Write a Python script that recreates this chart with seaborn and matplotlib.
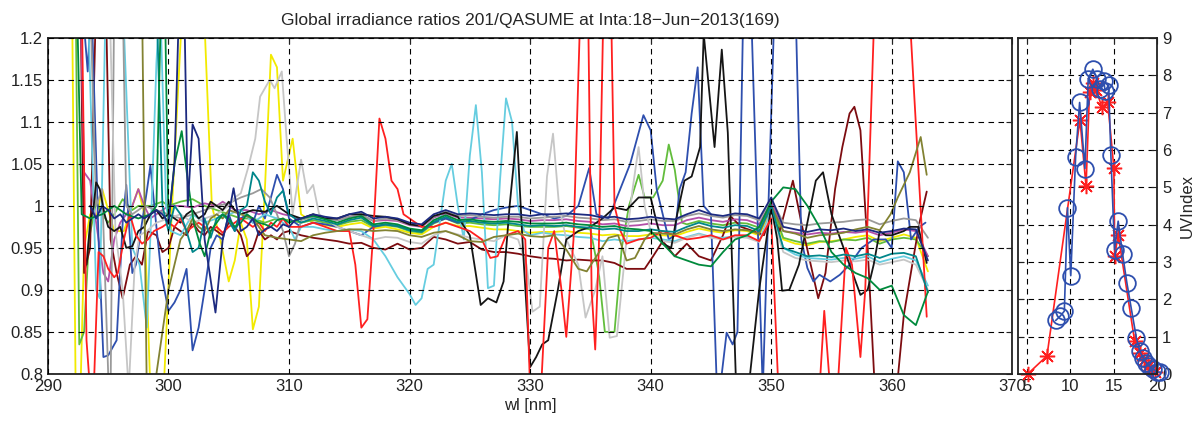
import matplotlib
matplotlib.use('Agg')
import matplotlib.pyplot as plt
import seaborn as sns
import numpy as np

# Razões de irradiância global 201/QASUME

band_wl = list(range(311, 364))  # parte "calma" do espectro, passo de 1 nm

# --- curvas com parte inicial irregular + faixa estável ---
navy_head = [(293.5, 1.0), (294.0, 0.985), (294.5, 1.0), (295.0, 0.995), (295.5, 0.985), (296.0, 0.99),
             (296.5, 0.98), (297.0, 0.985), (297.5, 0.99), (298.0, 0.985), (298.5, 0.99), (299.0, 0.995),
             (299.5, 0.99), (300.0, 0.98), (300.5, 1.05), (300.9, 1.25), (301.3, 1.25), (301.6, 1.0),
             (302.0, 1.097), (302.5, 1.08), (303.0, 0.96), (303.9, 0.873), (304.5, 0.96), (305.0, 0.99),
             (305.4, 1.021), (306.0, 0.97), (306.5, 0.975), (307.0, 0.985), (307.5, 0.965), (308.0, 0.972),
             (308.5, 0.975), (309.0, 0.97), (309.5, 0.978), (310.0, 0.975), (310.5, 0.983)]
navy_band = [0.985, 0.990, 0.987, 0.985, 0.990, 0.993, 0.985, 0.987, 0.985, 0.980,
             0.978, 0.990, 0.995, 0.990, 0.991, 0.990, 0.989, 0.990, 0.990, 0.988,
             0.990, 0.990, 0.991, 0.990, 0.989, 0.986, 0.987, 0.984, 0.985, 0.987,
             0.985, 0.984, 0.990, 0.995, 0.990, 0.988, 0.991, 0.990, 0.985, 1.010,
             0.975, 0.972, 0.969, 0.972, 0.971, 0.973, 0.970, 0.972, 0.968, 0.970,
             0.973, 0.972, 0.935]

gray_head = [(293.5, 1.25), (294.0, 1.0), (294.5, 1.02), (295.0, 0.8), (295.2, 0.78), (295.5, 1.25),
             (296.2, 1.25), (296.5, 1.0), (297.0, 0.99), (298.0, 1.0), (299.0, 0.995), (300.0, 0.99),
             (301.0, 0.985), (302.0, 0.99), (303.0, 0.995), (304.0, 1.0), (305.0, 1.003), (306.0, 1.01),
             (307.0, 1.015), (307.7, 1.02), (308.4, 1.01), (309.0, 0.99), (309.5, 0.97), (310.0, 0.94),
             (310.5, 0.955)]
gray_band = [0.983, 0.987, 0.985, 0.983, 0.987, 0.990, 0.982, 0.985, 0.983, 0.978,
             0.976, 0.987, 0.993, 0.988, 0.989, 0.987, 0.986, 0.987, 0.987, 0.985,
             0.986, 0.987, 0.988, 0.986, 0.985, 0.983, 0.984, 0.981, 0.982, 0.984,
             0.982, 0.982, 0.988, 0.991, 0.988, 0.986, 0.989, 0.988, 0.983, 1.008,
             0.980, 0.978, 0.977, 0.979, 0.980, 0.981, 0.983, 0.984, 0.978, 0.982,
             0.985, 0.983, 0.962]

magenta_head = [(292.7, 1.25), (293.0, 1.04), (293.5, 1.03), (294.0, 0.98), (294.6, 0.92), (295.0, 0.91),
                (295.5, 0.96), (296.0, 0.98), (296.5, 0.99), (297.0, 1.0), (297.5, 1.02), (298.0, 1.0),
                (298.5, 0.985), (299.0, 0.99), (300.0, 1.0), (301.0, 1.0), (302.0, 0.998), (303.0, 1.003),
                (304.0, 1.0), (304.5, 1.005), (305.5, 0.995), (306.5, 0.995), (307.5, 0.99), (308.5, 0.995),
                (309.5, 0.99), (310.2, 0.988)]
magenta_band = [0.984, 0.988, 0.986, 0.983, 0.987, 0.989, 0.982, 0.983, 0.982, 0.977,
                0.975, 0.986, 0.991, 0.986, 0.986, 0.985, 0.984, 0.985, 0.984, 0.982,
                0.983, 0.983, 0.984, 0.982, 0.981, 0.978, 0.979, 0.976, 0.977, 0.979,
                0.977, 0.977, 0.983, 0.986, 0.983, 0.981, 0.984, 0.983, 0.978, 1.005,
                0.970, 0.968, 0.966, 0.968, 0.967, 0.969, 0.968, 0.970, 0.965, 0.968,
                0.972, 0.970, 0.940]

teal_head = [(299.0, 1.25), (299.5, 1.0), (300.0, 0.97), (300.5, 1.0), (301.0, 0.99), (301.5, 0.97),
             (302.0, 0.945), (302.5, 0.95), (303.0, 0.985), (303.5, 0.962), (304.0, 0.985), (304.5, 0.99),
             (305.0, 0.982), (305.5, 0.97), (306.0, 0.995), (306.5, 1.0), (307.0, 1.04), (307.5, 1.03),
             (308.0, 1.005), (308.5, 0.99), (309.0, 1.01), (309.5, 1.018), (310.0, 0.99)]
teal_band = [0.980, 0.985, 0.982, 0.978, 0.983, 0.986, 0.976, 0.978, 0.976, 0.971,
             0.969, 0.981, 0.987, 0.981, 0.982, 0.980, 0.979, 0.980, 0.978, 0.976,
             0.977, 0.976, 0.977, 0.975, 0.974, 0.972, 0.973, 0.970, 0.970, 0.972,
             0.970, 0.969, 0.975, 0.980, 0.976, 0.974, 0.977, 0.976, 0.970, 1.000,
             0.950, 0.945, 0.940, 0.941, 0.939, 0.942, 0.940, 0.943, 0.938, 0.943,
             0.944, 0.940, 0.897]

yellow_head = [(292.0, 1.25), (292.3, 0.78), (292.7, 0.78), (293.0, 0.95), (293.5, 0.99), (294.0, 0.985),
               (294.5, 1.02), (295.5, 0.97), (296.3, 0.97), (297.0, 1.0), (297.5, 1.02), (298.0, 0.99),
               (298.5, 0.78), (299.6, 0.78), (300.3, 1.0), (301.2, 1.25), (302.9, 1.25), (303.6, 1.0),
               (304.3, 0.96), (305.0, 0.91), (305.5, 0.935), (306.0, 0.98), (306.5, 0.96), (307.0, 0.853),
               (307.5, 0.88), (308.0, 1.02), (308.5, 1.18), (309.0, 1.165), (309.5, 1.03), (310.3, 1.08)]
yellow_band = [0.990, 0.980, 0.977, 0.975, 0.978, 0.980, 0.973, 0.975, 0.972, 0.968,
               0.966, 0.975, 0.980, 0.976, 0.976, 0.974, 0.972, 0.972, 0.970, 0.968,
               0.969, 0.969, 0.970, 0.968, 0.967, 0.965, 0.966, 0.964, 0.964, 0.966,
               0.965, 0.964, 0.969, 0.973, 0.970, 0.968, 0.971, 0.970, 0.965, 0.998,
               0.960, 0.955, 0.953, 0.957, 0.958, 0.960, 0.963, 0.965, 0.958, 0.962,
               0.966, 0.962, 0.922]

dkgreen_head = [(292.4, 1.25), (292.8, 0.99), (293.5, 0.985), (294.5, 0.99), (295.5, 1.0), (296.5, 0.99),
                (297.5, 0.985), (298.5, 0.99), (299.0, 1.0), (299.4, 1.25), (299.7, 1.25), (300.0, 0.98),
                (300.5, 1.05), (301.1, 1.089), (301.6, 1.03), (302.1, 0.98), (302.6, 0.955), (303.0, 0.94),
                (303.5, 0.97), (304.0, 0.98), (304.5, 0.99), (305.0, 0.985), (305.5, 0.975), (306.0, 0.98),
                (306.5, 0.99), (307.0, 0.985), (307.5, 0.98), (308.0, 0.978), (308.5, 0.975), (309.0, 0.983),
                (309.5, 0.985), (310.0, 0.98)]
dkgreen_band = [0.985, 0.988, 0.984, 0.980, 0.985, 0.988, 0.978, 0.980, 0.978, 0.973,
                0.971, 0.983, 0.989, 0.983, 0.984, 0.982, 0.981, 0.982, 0.981, 0.979,
                0.979, 0.979, 0.980, 0.978, 0.977, 0.975, 0.976, 0.973, 0.972, 0.970,
                0.955, 0.940, 0.935, 0.930, 0.928, 0.945, 0.960, 0.965, 0.975, 1.005,
                1.022, 1.020, 1.000, 0.975, 0.945, 0.930, 0.920, 0.914, 0.900, 0.905,
                0.870, 0.858, 0.898]

# --- curvas descritas apenas por vértices ---
ltgreen = [(292.3, 1.25), (292.6, 0.835), (293.0, 0.85), (293.4, 0.96), (294.0, 1.005), (294.5, 0.99),
           (295.0, 0.98), (295.5, 0.99), (296.2, 1.008), (297.0, 0.995), (297.5, 1.0), (298.5, 1.0),
           (299.5, 1.005), (300.0, 1.0), (301.0, 1.005), (302.0, 1.008), (303.0, 1.0), (304.0, 0.995),
           (305.0, 0.99), (306.0, 0.985), (307.0, 0.985), (308.0, 0.98), (309.0, 0.985), (310.0, 0.983),
           (311, 0.980), (312, 0.983), (313, 0.980), (314, 0.977), (315, 0.981), (316, 0.983), (317, 0.975),
           (318, 0.977), (319, 0.975), (320, 0.970), (321, 0.968), (322, 0.979), (323, 0.985), (324, 0.979),
           (325, 0.980), (326, 0.978), (327, 0.977), (328, 0.978), (329, 0.976), (330, 0.975), (331, 0.975),
           (332, 0.975), (333, 0.976), (334, 0.974), (335, 0.972), (335.7, 0.92), (336.2, 0.85), (337.0, 0.85),
           (337.6, 0.95), (338.2, 1.0), (339.0, 1.037), (339.5, 1.01), (340.2, 1.01), (341.0, 1.03),
           (341.5, 1.073), (342.0, 1.043), (342.6, 0.98), (343, 0.978), (344, 0.982), (345, 0.979),
           (346, 0.977), (347, 0.98), (348, 0.979), (349, 0.974), (350, 1.002), (351, 0.962), (352, 0.958),
           (353, 0.955), (354, 0.958), (355, 0.957), (356, 0.96), (357, 0.959), (358, 0.962), (359, 0.955),
           (360, 0.96), (361, 0.962), (362, 0.96), (363, 0.94)]

maroon = [(292.7, 1.25), (293.0, 0.92), (293.5, 0.95), (294.0, 1.25), (294.8, 1.25), (295.2, 0.96),
          (295.7, 0.92), (296.2, 0.89), (296.8, 0.93), (297.3, 0.94), (297.8, 0.93), (298.3, 0.97),
          (299.0, 0.965), (299.5, 0.945), (300.0, 0.95), (300.5, 0.975), (301.0, 0.97), (301.5, 0.965),
          (302.0, 0.98), (302.5, 0.97), (303.0, 0.965), (303.5, 0.975), (304.0, 0.97), (304.5, 0.965),
          (305.0, 0.98), (305.5, 0.975), (306.0, 0.965), (306.5, 0.94), (307.0, 0.948), (307.5, 0.97),
          (308.0, 0.96), (308.5, 0.965), (309.0, 0.96), (309.5, 0.968), (310.0, 0.97), (311, 0.965),
          (312, 0.962), (313, 0.96), (314, 0.958), (315, 0.955), (316, 0.956), (317, 0.95), (318, 0.948),
          (319, 0.955), (320, 0.948), (321, 0.95), (322, 0.963), (323, 0.96), (324, 0.955), (325, 0.957),
          (326, 0.948), (327, 0.945), (328, 0.945), (329, 0.943), (330, 0.94), (331, 0.938), (332, 0.937),
          (333, 0.935), (334, 0.936), (335, 0.935), (336, 0.935), (337, 0.932), (338, 0.925), (339.5, 0.925),
          (340.2, 0.94), (341, 0.958), (342, 0.94), (343, 0.955), (344, 0.94), (345, 0.935), (346, 0.965),
          (346.6, 0.988), (347.5, 0.975), (348.5, 0.97), (349.4, 0.965), (350, 0.99), (350.7, 0.97),
          (351.8, 1.03), (352.5, 0.98), (353.9, 0.89), (354.5, 0.92), (355.3, 1.02), (355.9, 1.07),
          (356.5, 1.11), (356.9, 1.118), (357.4, 1.09), (358.0, 0.95), (358.6, 0.78), (360.4, 0.78),
          (361.0, 0.87), (361.7, 0.93), (362.3, 0.98), (362.9, 1.017)]

blue = [(292.8, 1.25), (293.3, 1.16), (293.6, 1.25), (294.2, 0.96), (294.6, 0.82), (295.0, 0.822),
        (295.7, 0.84), (296.2, 0.98), (296.5, 1.025), (297.0, 0.92), (297.3, 0.93), (297.7, 0.97),
        (298.2, 1.017), (298.5, 1.048), (299.0, 0.975), (299.4, 0.92), (300.0, 0.875), (300.5, 0.885),
        (301.0, 0.9), (301.5, 0.925), (302.0, 0.828), (302.5, 0.855), (303.0, 0.9), (303.5, 0.95),
        (304.0, 0.965), (304.5, 0.96), (305.0, 0.99), (305.5, 0.97), (306.0, 0.985), (306.5, 0.99),
        (307.0, 0.98), (307.5, 1.0), (308.0, 0.985), (308.5, 1.01), (309.0, 1.037), (309.5, 1.02),
        (310.0, 0.985), (311, 0.975), (312, 0.98), (313, 0.978), (314, 0.975), (315, 0.97), (316, 0.965),
        (317, 0.975), (318, 0.978), (319, 0.976), (320, 0.972), (321, 0.97), (322, 0.98), (323, 0.985),
        (324, 0.98), (325, 0.983), (326, 0.99), (327, 0.995), (328, 0.998), (329, 1.0), (330, 0.995),
        (331, 0.99), (332, 0.985), (333, 0.988), (334.0, 1.0), (334.9, 1.045), (335.5, 0.99), (336.5, 0.985),
        (337.2, 1.01), (338.3, 1.05), (339.4, 1.108), (340.0, 1.09), (340.5, 1.02), (341.0, 0.99),
        (341.5, 0.96), (342.0, 0.965), (342.4, 1.02), (342.9, 1.04), (343.4, 1.11), (343.9, 1.165),
        (344.4, 1.0), (345.0, 0.99), (345.5, 0.78), (345.9, 0.8), (346.3, 0.849), (346.8, 0.835),
        (347.2, 0.85), (347.7, 1.25), (348.3, 1.25), (349.3, 0.78), (350.3, 1.25), (352.0, 1.25),
        (352.5, 0.96), (353.0, 0.926), (353.5, 0.91), (354.0, 0.918), (354.9, 0.91), (355.7, 0.918),
        (356.5, 0.93), (357.5, 0.95), (358.5, 0.96), (359.5, 0.96), (360.0, 0.95), (360.5, 1.053),
        (361.0, 1.04), (361.6, 0.96), (362.3, 0.975), (362.8, 0.98)]

cyan = [(293.3, 1.25), (294.0, 0.9), (294.3, 0.89), (294.8, 1.25), (296.2, 1.25), (297.0, 0.95),
        (297.6, 0.93), (298.2, 0.855), (298.6, 1.0), (299.0, 1.17), (299.3, 1.25), (299.8, 1.0),
        (300.2, 0.97), (301.0, 0.965), (302.0, 0.99), (303.0, 0.98), (304.0, 0.985), (305.0, 0.99),
        (306.0, 0.995), (307.0, 0.98), (308.0, 0.99), (309.0, 0.985), (310.0, 0.975), (310.5, 0.96),
        (311.0, 0.975), (312, 0.975), (313, 0.972), (314, 0.97), (315, 0.972), (316, 0.97), (317, 0.96),
        (318, 0.94), (319, 0.915), (320, 0.895), (320.5, 0.882), (321, 0.89), (321.5, 0.925), (322, 0.93),
        (322.5, 0.98), (323, 1.03), (323.5, 1.05), (324, 1.0), (324.5, 0.96), (325, 1.06), (325.5, 1.12),
        (326, 1.04), (326.5, 0.902), (327, 0.905), (327.5, 1.03), (328, 1.128), (328.5, 1.1), (329, 1.0),
        (329.5, 0.97), (330, 0.965), (331, 0.968), (332, 0.966), (333, 0.965), (334, 0.963), (335, 0.962),
        (336, 0.958), (337, 0.96), (338, 0.958), (339, 0.96), (340, 0.962), (341, 0.96), (342, 0.958),
        (343, 0.963), (344, 0.967), (345, 0.963), (346, 0.962), (347, 0.964), (348, 0.963), (349, 0.958),
        (350, 0.995), (351, 0.95), (352, 0.942), (353, 0.938), (354, 0.937), (355, 0.936), (356, 0.938),
        (357, 0.937), (358, 0.94), (359, 0.933), (360, 0.937), (361, 0.94), (362, 0.935), (363, 0.905)]

ltgray = [(295.1, 1.25), (295.6, 0.97), (296.2, 0.9), (296.7, 0.78), (297.2, 0.93), (297.6, 0.965),
          (298.2, 0.97), (299.0, 0.98), (300.0, 0.985), (301.0, 0.99), (302.0, 0.98), (303.0, 0.985),
          (304.0, 0.99), (305.0, 1.0), (305.5, 1.01), (306.0, 1.015), (306.6, 1.045), (307.2, 1.08),
          (307.6, 1.13), (308.0, 1.14), (308.4, 1.15), (308.8, 1.14), (309.4, 1.16), (309.8, 1.08),
          (310.3, 0.99), (311.0, 1.055), (311.5, 1.015), (312.0, 1.025), (312.5, 0.99), (313.0, 0.985),
          (314, 0.975), (315, 0.97), (316, 0.965), (317, 0.96), (318, 0.963), (319, 0.962), (320, 0.957),
          (321, 0.955), (322, 0.965), (323, 0.97), (324, 0.966), (325, 0.962), (326, 0.96), (327, 0.958),
          (328, 0.965), (329, 0.96), (329.7, 0.93), (330.2, 0.874), (330.8, 0.88), (331.4, 1.035),
          (331.9, 1.086), (332.4, 1.0), (333.0, 0.96), (334.0, 0.93), (334.6, 0.867), (335.4, 0.9),
          (336.0, 0.94), (336.6, 0.843), (337.2, 0.845), (338.0, 0.96), (338.5, 1.02), (339.0, 1.07),
          (339.5, 1.0), (340, 0.97), (341, 0.958), (342, 0.956), (343, 0.962), (344, 0.966), (345, 0.962),
          (346, 0.96), (347, 0.963), (348, 0.962), (349, 0.957), (350, 0.99), (351, 0.945), (352, 0.938),
          (353, 0.935), (354, 0.934), (355, 0.933), (356, 0.935), (357, 0.934), (358, 0.936), (359, 0.93),
          (360, 0.933), (361, 0.936), (362, 0.93), (363, 0.9)]

black = [(293.2, 0.93), (293.5, 0.98), (293.8, 1.0), (294.0, 1.028), (294.3, 1.02), (294.7, 0.99),
         (295.0, 0.975), (295.5, 0.97), (296.0, 0.975), (296.5, 0.95), (297.0, 0.952), (297.5, 0.97),
         (298.0, 0.975), (298.5, 0.99), (299.0, 0.995), (299.5, 0.985), (300.0, 0.99), (300.5, 0.985),
         (301.0, 0.98), (301.5, 0.99), (302.0, 0.995), (302.5, 0.985), (303.0, 0.99), (303.5, 1.005),
         (304.0, 1.0), (304.5, 0.995), (305.0, 1.005), (305.5, 0.995), (306.0, 0.99), (307.0, 0.995),
         (308.0, 0.993), (309.0, 1.0), (310.0, 0.99), (311, 0.985), (312, 0.99), (313, 0.985), (314, 0.985),
         (315, 0.99), (316, 0.99), (317, 0.988), (318, 0.987), (319, 0.984), (320, 0.978), (321, 0.976),
         (322, 0.988), (323, 0.992), (324, 0.987), (325.0, 0.965), (325.9, 0.882), (326.5, 0.89),
         (327.2, 0.885), (327.8, 0.91), (328.3, 1.0), (328.9, 1.088), (329.4, 0.95), (330.0, 0.808),
         (330.5, 0.82), (331.0, 0.835), (331.5, 0.84), (332.3, 0.9), (333.0, 0.96), (334, 0.97), (335, 0.975),
         (336, 0.985), (337, 0.998), (338, 0.995), (339, 1.01), (340, 1.01), (340.5, 0.98), (341.0, 0.955),
         (341.7, 0.95), (342.2, 0.99), (342.8, 1.03), (343.4, 1.035), (344.1, 1.07), (344.4, 1.205),
         (345.3, 1.07), (345.9, 1.186), (346.4, 1.087), (347.1, 0.78), (348.1, 0.78), (349.0, 0.9),
         (349.5, 0.95), (350.0, 1.0), (350.5, 0.96), (350.9, 0.899), (351.5, 0.9), (352.3, 0.93),
         (353.0, 0.98), (353.7, 1.03), (354.3, 1.04), (355.0, 0.99), (355.5, 0.97), (356.5, 0.93),
         (357.4, 0.894), (358.0, 0.9), (358.5, 0.93), (359.0, 0.97), (359.5, 0.965), (360.0, 0.965),
         (361.0, 0.97), (361.5, 0.975), (362.2, 0.975), (362.9, 0.932)]

red = [(292.8, 1.25), (293.2, 0.84), (293.5, 0.78), (293.8, 0.78), (294.2, 0.945), (294.6, 0.94),
       (295.0, 0.925), (295.5, 0.915), (295.8, 0.92), (296.3, 0.96), (296.8, 0.99), (297.3, 0.965),
       (297.8, 0.955), (298.3, 0.96), (298.8, 0.97), (299.5, 0.975), (300.0, 0.98), (300.5, 0.975),
       (301.0, 0.985), (301.5, 0.97), (302.0, 0.975), (302.5, 0.98), (303.0, 0.975), (303.5, 0.97),
       (304.0, 0.975), (304.5, 0.968), (305.0, 0.975), (305.5, 0.98), (306.0, 0.985), (306.5, 0.98),
       (307.0, 0.975), (307.5, 0.98), (308.0, 0.97), (308.5, 0.98), (309.0, 0.975), (309.5, 0.985),
       (310.0, 0.975), (311, 0.975), (312, 0.98), (313, 0.975), (314, 0.97), (315, 0.97), (315.5, 0.93),
       (316.0, 0.855), (316.5, 0.865), (317.0, 0.97), (317.5, 1.104), (318.0, 1.08), (318.5, 1.03),
       (319.0, 1.02), (319.5, 0.99), (320, 0.985), (321, 0.975), (322, 0.975), (323, 0.98), (324, 0.975),
       (325, 0.97), (326, 0.96), (326.7, 0.938), (327.3, 0.94), (328, 0.965), (329, 0.97), (329.6, 0.96),
       (330.0, 0.78), (330.9, 0.78), (331.5, 0.95), (332.0, 0.97), (332.6, 0.9), (333.0, 0.844),
       (333.6, 0.96), (334.2, 1.25), (334.8, 1.25), (335.1, 0.9), (335.4, 0.829), (335.7, 0.95),
       (336.1, 1.25), (336.7, 1.25), (337.0, 1.0), (337.5, 0.97), (338, 0.955), (339, 0.96), (340, 0.962),
       (341, 0.97), (342, 0.965), (343, 0.96), (344, 0.962), (345, 0.965), (346, 0.96), (347, 0.965),
       (348, 0.965), (349, 0.958), (350.0, 0.985), (350.6, 0.78), (354.0, 0.78), (354.4, 0.875),
       (354.9, 0.78), (355.5, 0.78), (356.2, 0.95), (356.7, 0.93), (357.4, 0.82), (357.8, 0.9),
       (358.6, 1.25), (361.4, 1.25), (362.9, 0.868)]

olive = [(297.8, 1.25), (298.2, 0.78), (298.8, 0.78), (299.5, 0.85), (300.0, 0.9), (300.5, 0.93),
         (301.0, 0.96), (301.5, 0.97), (302.0, 0.985), (302.5, 0.975), (303.0, 0.97), (303.5, 0.985),
         (304.0, 0.99), (304.5, 0.985), (305.0, 0.995), (306.0, 0.99), (307.0, 0.985), (307.5, 0.975),
         (308.0, 0.965), (309.0, 0.962), (310.0, 0.96), (311, 0.958), (312, 0.965), (313, 0.968),
         (314, 0.97), (315, 0.972), (316, 0.972), (317, 0.97), (318, 0.971), (319, 0.97), (320, 0.965),
         (321, 0.963), (322, 0.968), (323, 0.97), (324, 0.965), (325, 0.958), (326, 0.957), (327, 0.963),
         (328, 0.965), (329, 0.967), (330, 0.964), (331, 0.963), (332, 0.965), (333, 0.948), (334, 0.925),
         (334.7, 0.922), (335.5, 0.94), (336.5, 0.962), (337.3, 0.965), (338.0, 0.935), (338.7, 0.938),
         (339.5, 0.96), (340, 0.968), (341, 0.967), (342, 0.966), (343, 0.972), (344, 0.976), (345, 0.972),
         (346, 0.97), (347, 0.972), (348, 0.971), (349, 0.967), (350, 1.0), (351, 0.97), (352, 0.967),
         (353, 0.962), (354, 0.965), (355, 0.966), (356, 0.968), (357, 0.972), (358, 0.975), (359, 0.971),
         (359.9, 0.99), (360.5, 1.01), (361.5, 1.04), (362.4, 1.082), (362.9, 1.037)]

# --- painel direito: índice UV ao longo do dia ---
uv_ref_hour = [5.1, 7.3, 11.1, 11.8, 12.2, 12.6, 13.0, 13.6, 14.3, 15.0, 15.1, 15.5, 17.4, 18.0, 18.5,
               18.9, 19.3, 19.7]
uv_ref = [0.0, 0.48, 6.8, 5.03, 7.55, 7.8, 7.6, 7.15, 7.27, 5.52, 3.15, 3.73, 0.87, 0.57, 0.38, 0.21,
          0.13, 0.04]
uv_201_hour = [8.3, 8.8, 9.3, 9.66, 10.04, 10.6, 11.06, 11.67, 12.05, 12.58, 13.07, 13.45, 13.83, 14.0,
               14.4, 14.66, 15.08, 15.5, 16.0, 16.5, 17.0, 17.6, 18.0, 18.4, 18.75, 19.1, 19.5, 20.0, 20.3]
uv_201 = [1.43, 1.54, 1.68, 4.45, 2.63, 5.82, 7.27, 5.50, 7.91, 8.16, 7.90, 7.63, 7.85, 7.58, 7.74, 5.85,
          3.33, 4.09, 3.22, 2.44, 1.76, 0.96, 0.60, 0.42, 0.29, 0.20, 0.13, 0.06, 0.04]

# cores
cores = {'yellow': '#f2ea00', 'ltgreen': '#62bd3c', 'maroon': '#7d0c10', 'magenta': '#b450a8',
         'blue': '#2e4fae', 'cyan': '#66cde0', 'gray': '#9a9a9a', 'ltgray': '#c6c6c6',
         'black': '#151515', 'red': '#ff2020', 'olive': '#828232', 'teal': '#00868a',
         'dkgreen': '#008a3c', 'navy': '#1c2a80'}

sns.set_style('white')
plt.rcParams['font.family'] = ['Liberation Sans', 'DejaVu Sans']

fig = plt.figure(figsize=(11.98, 4.21), dpi=100)
ax = fig.add_axes([0.040, 0.112, 0.805, 0.798])
ax2 = fig.add_axes([0.850, 0.112, 0.116, 0.798])


def junta(head, band):
    w = [p[0] for p in head] + band_wl
    r = [p[1] for p in head] + band
    return w, r


def separa(pts):
    return [p[0] for p in pts], [p[1] for p in pts]


curvas = [
    ('yellow', junta(yellow_head, yellow_band)),
    ('ltgreen', separa(ltgreen)),
    ('maroon', separa(maroon)),
    ('magenta', junta(magenta_head, magenta_band)),
    ('blue', separa(blue)),
    ('cyan', separa(cyan)),
    ('gray', junta(gray_head, gray_band)),
    ('ltgray', separa(ltgray)),
    ('black', separa(black)),
    ('red', separa(red)),
    ('olive', separa(olive)),
    ('teal', junta(teal_head, teal_band)),
    ('dkgreen', junta(dkgreen_head, dkgreen_band)),
    ('navy', junta(navy_head, navy_band)),
]
for nome, (w, r) in curvas:
    sns.lineplot(x=w, y=r, ax=ax, color=cores[nome], lw=1.3, estimator=None, sort=False)

grid_kw = dict(color='k', linestyle=(0, (5, 4)), linewidth=0.8)
ax.set_xlim(290, 370)
ax.set_ylim(0.8, 1.2)
ax.set_xticks(np.arange(290, 371, 10))
ax.set_yticks(np.arange(0.8, 1.201, 0.05))
ax.set_yticklabels(['0.8', '0.85', '0.9', '0.95', '1', '1.05', '1.1', '1.15', '1.2'])
ax.grid(True, **grid_kw)
ax.set_axisbelow(False)
ax.tick_params(direction='in', length=4, labelsize=12, top=True, right=True, colors='#222222')
ax.set_xlabel('wl [nm]', fontsize=12, labelpad=3)
ax.set_title('Global irradiance ratios 201/QASUME at Inta:18\u2212Jun\u22122013(169)', fontsize=12.5, pad=9)
for s in ax.spines.values():
    s.set_linewidth(1.3)
    s.set_color('#222222')

# seaborn pinta a borda dos marcadores de branco por padrão: cor explícita
sns.lineplot(x=uv_ref_hour, y=uv_ref, ax=ax2, color='#ff2020', lw=1.2, marker=(8, 2, 0), markersize=11,
             markeredgecolor='#ff2020', markeredgewidth=1.1, estimator=None, sort=False, clip_on=False)
sns.lineplot(x=uv_201_hour, y=uv_201, ax=ax2, color='#2e4fae', lw=1.2, marker='o', markersize=12,
             markerfacecolor='none', markeredgecolor='#2e4fae', markeredgewidth=1.3,
             estimator=None, sort=False, clip_on=False)
ax2.set_xlim(4, 20)
ax2.set_ylim(0, 9)
ax2.set_xticks([5, 10, 15, 20])
ax2.set_yticks(range(0, 10))
ax2.yaxis.tick_right()
ax2.yaxis.set_label_position('right')
ax2.set_ylabel('UVIndex', fontsize=12, labelpad=6)
ax2.grid(True, **grid_kw)
ax2.tick_params(direction='in', length=4, labelsize=12, top=True, left=True, colors='#222222')
for s in ax2.spines.values():
    s.set_linewidth(1.3)
    s.set_color('#222222')

fig.savefig('out.png', dpi=100)
